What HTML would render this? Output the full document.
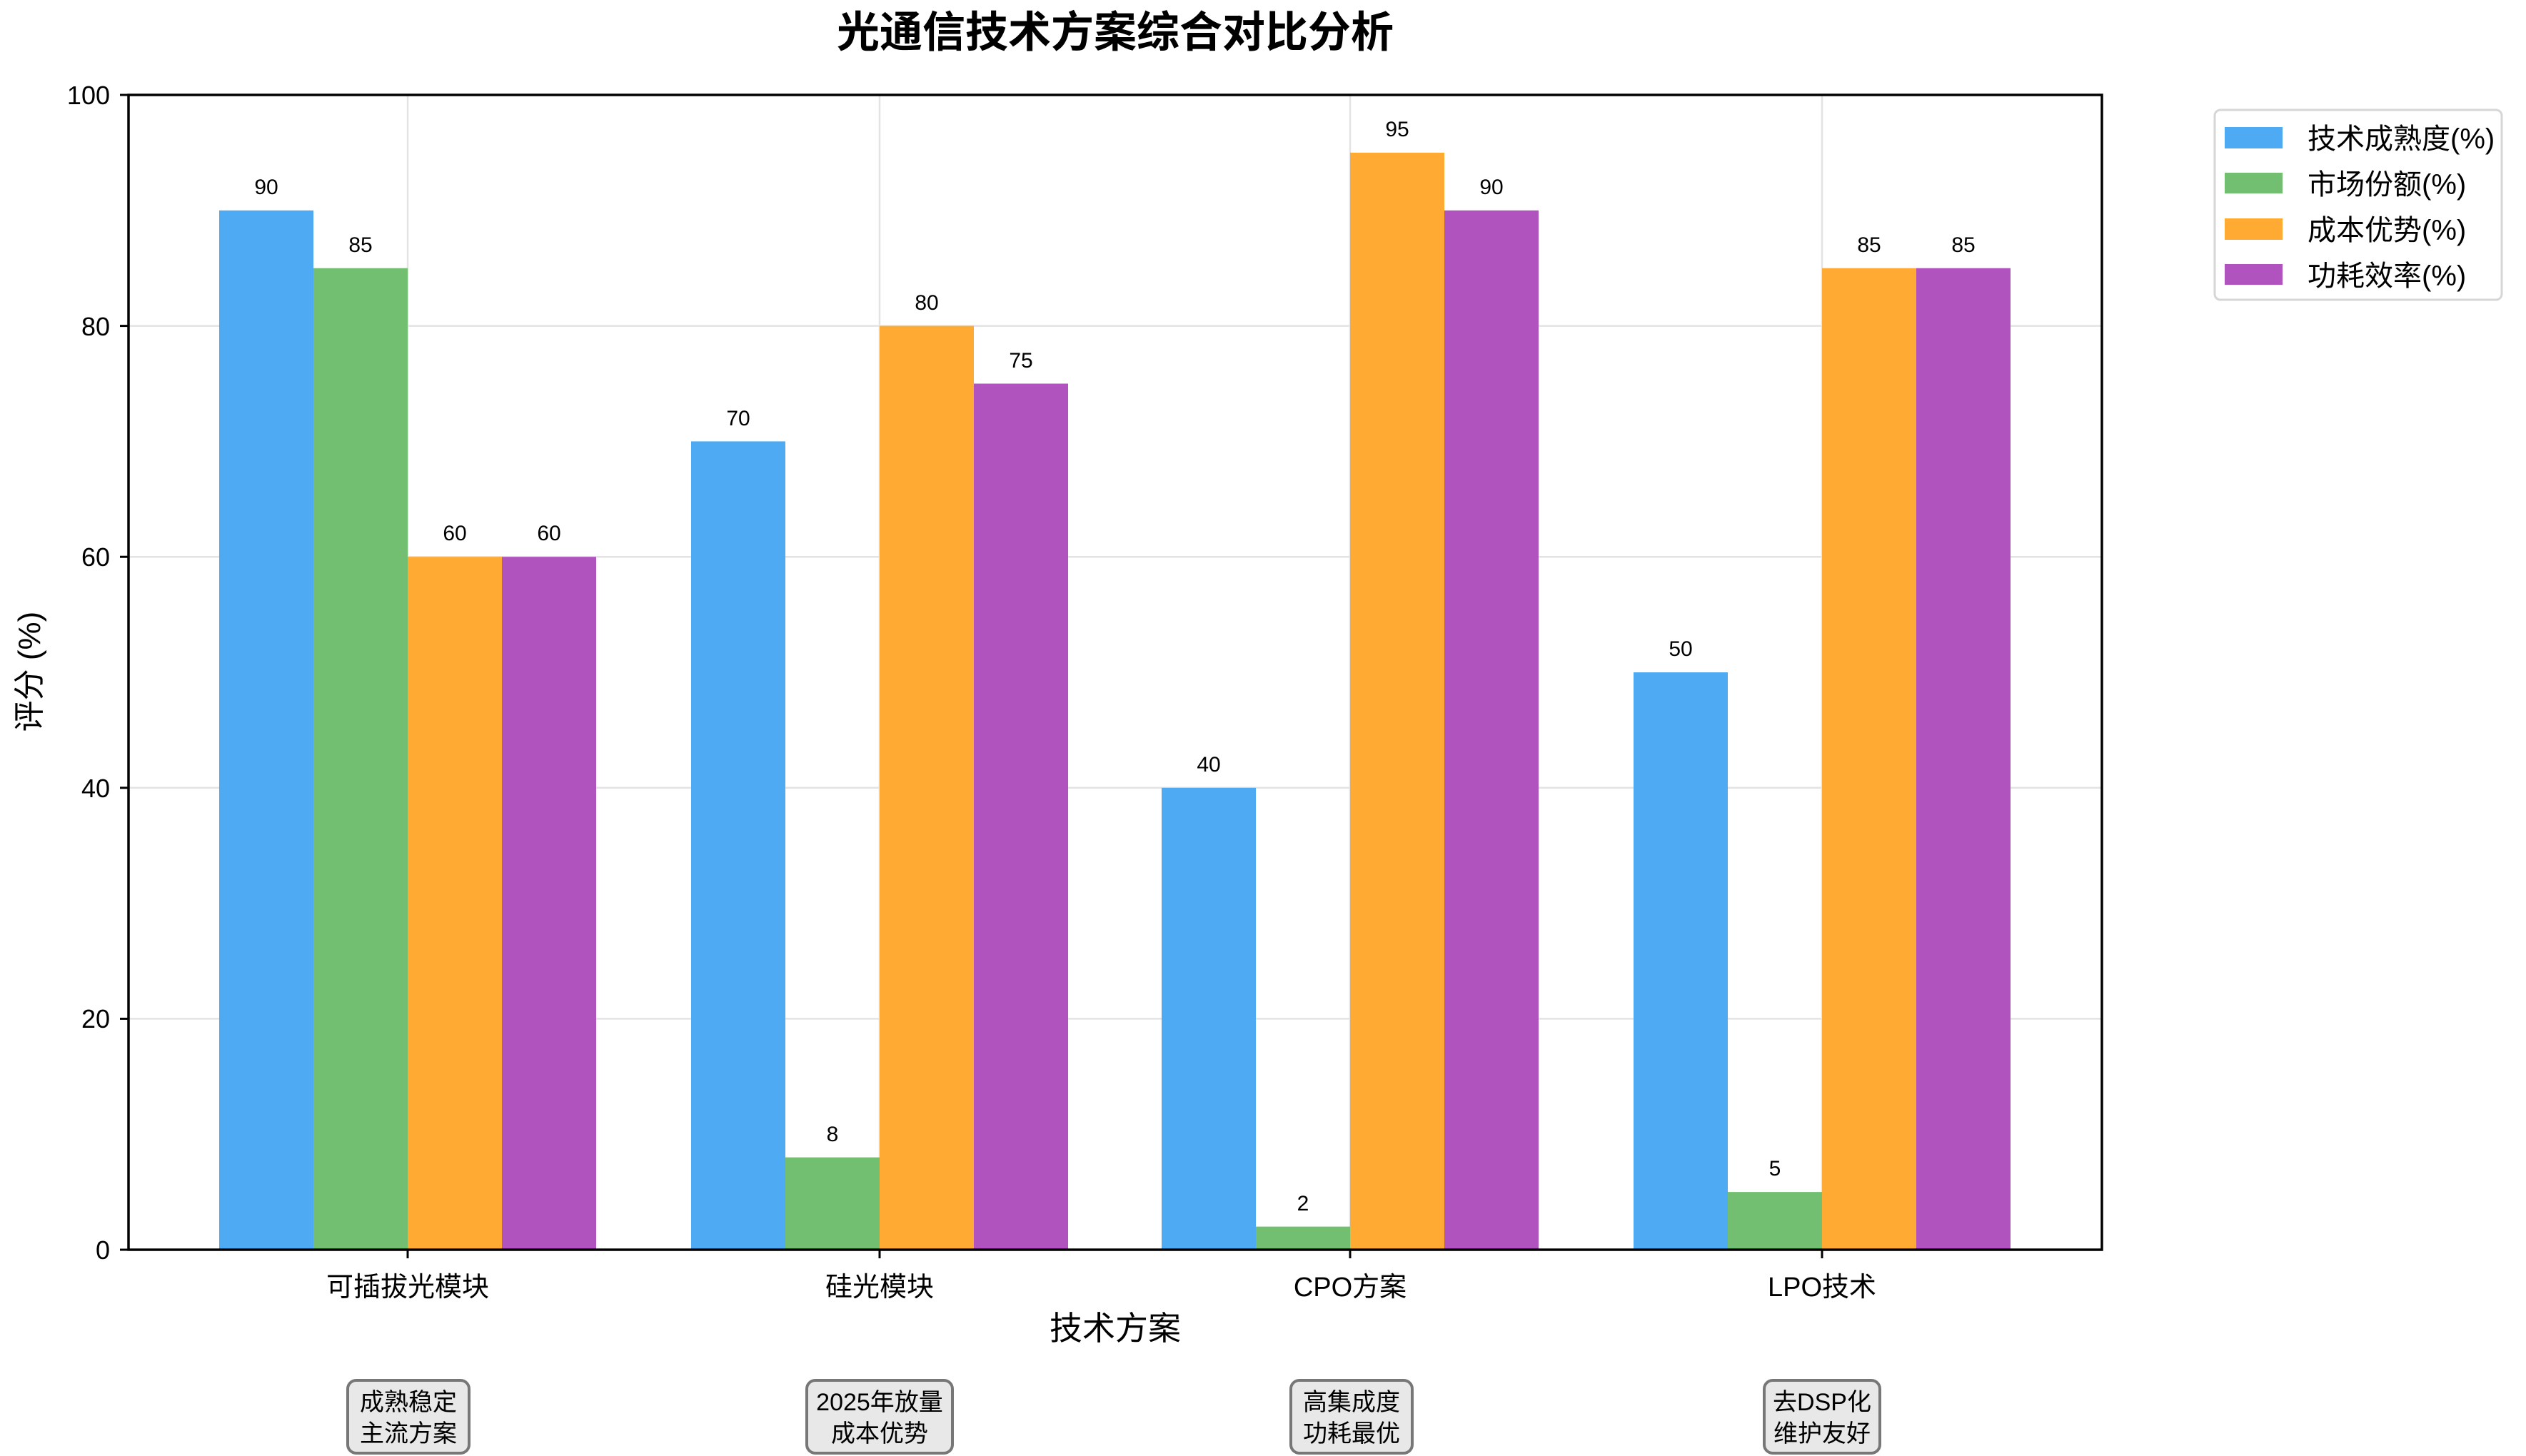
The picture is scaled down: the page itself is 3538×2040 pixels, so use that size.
<!DOCTYPE html>
<html><head><meta charset="utf-8"><style>
html,body{margin:0;padding:0;background:#fff}
svg{display:block}
text{font-family:"Liberation Sans","Noto Sans CJK SC",sans-serif;fill:#000}
</style></head><body>
<svg width="3538" height="2040" viewBox="0 0 3538 2040" xmlns="http://www.w3.org/2000/svg">
<rect width="3538" height="2040" fill="#fff"/>
<text x="1562" y="66" font-size="60" font-weight="bold" text-anchor="middle">光通信技术方案综合对比分析</text>
<!-- grid -->
<g stroke="#e3e3e3" stroke-width="2.5">
<line x1="180" x2="2944" y1="1427.4" y2="1427.4"/>
<line x1="180" x2="2944" y1="1103.8" y2="1103.8"/>
<line x1="180" x2="2944" y1="780.2" y2="780.2"/>
<line x1="180" x2="2944" y1="456.6" y2="456.6"/>
<line x1="571" x2="571" y1="133" y2="1751"/>
<line x1="1232" x2="1232" y1="133" y2="1751"/>
<line x1="1891" x2="1891" y1="133" y2="1751"/>
<line x1="2552" x2="2552" y1="133" y2="1751"/>
</g>
<!-- bars: y = 1751 - v*16.18 -->
<g>
<rect x="307" y="294.8" width="132" height="1456.2" fill="#4eaaf2"/>
<rect x="439" y="375.7" width="132" height="1375.3" fill="#72bf72"/>
<rect x="571" y="780.2" width="132" height="970.8" fill="#ffab33"/>
<rect x="703" y="780.2" width="132" height="970.8" fill="#b053be"/>

<rect x="968" y="618.4" width="132" height="1132.6" fill="#4eaaf2"/>
<rect x="1100" y="1621.6" width="132" height="129.4" fill="#72bf72"/>
<rect x="1232" y="456.6" width="132" height="1294.4" fill="#ffab33"/>
<rect x="1364" y="537.5" width="132" height="1213.5" fill="#b053be"/>

<rect x="1627" y="1103.8" width="132" height="647.2" fill="#4eaaf2"/>
<rect x="1759" y="1718.6" width="132" height="32.4" fill="#72bf72"/>
<rect x="1891" y="213.9" width="132" height="1537.1" fill="#ffab33"/>
<rect x="2023" y="294.8" width="132" height="1456.2" fill="#b053be"/>

<rect x="2288" y="942" width="132" height="809" fill="#4eaaf2"/>
<rect x="2420" y="1670.1" width="132" height="80.9" fill="#72bf72"/>
<rect x="2552" y="375.7" width="132" height="1375.3" fill="#ffab33"/>
<rect x="2684" y="375.7" width="132" height="1375.3" fill="#b053be"/>
</g>
<g font-size="30" text-anchor="middle">
<text x="373" y="272">90</text><text x="505" y="353">85</text><text x="637" y="757">60</text><text x="769" y="757">60</text>
<text x="1034" y="596">70</text><text x="1166" y="1599">8</text><text x="1298" y="434">80</text><text x="1430" y="515">75</text>
<text x="1693" y="1081">40</text><text x="1825" y="1696">2</text><text x="1957" y="191">95</text><text x="2089" y="272">90</text>
<text x="2354" y="919">50</text><text x="2486" y="1647">5</text><text x="2618" y="353">85</text><text x="2750" y="353">85</text>
</g>
<rect x="180" y="133" width="2764" height="1618" fill="none" stroke="#000" stroke-width="3.5"/>
<!-- y ticks -->
<g stroke="#000" stroke-width="3">
<line x1="168" x2="180" y1="1751" y2="1751"/><line x1="168" x2="180" y1="1427.4" y2="1427.4"/>
<line x1="168" x2="180" y1="1103.8" y2="1103.8"/><line x1="168" x2="180" y1="780.2" y2="780.2"/>
<line x1="168" x2="180" y1="456.6" y2="456.6"/><line x1="168" x2="180" y1="133" y2="133"/>
<line x1="571" x2="571" y1="1751" y2="1763"/><line x1="1232" x2="1232" y1="1751" y2="1763"/>
<line x1="1891" x2="1891" y1="1751" y2="1763"/><line x1="2552" x2="2552" y1="1751" y2="1763"/>
</g>
<g font-size="36" text-anchor="end">
<text x="154" y="1764">0</text><text x="154" y="1440">20</text><text x="154" y="1117">40</text>
<text x="154" y="793">60</text><text x="154" y="470">80</text><text x="154" y="146">100</text>
</g>
<g font-size="38" text-anchor="middle">
<text x="571" y="1816">可插拔光模块</text><text x="1232" y="1816">硅光模块</text>
<text x="1891" y="1816">CPO方案</text><text x="2552" y="1816">LPO技术</text>
</g>
<text x="1562" y="1877" font-size="46" text-anchor="middle">技术方案</text>
<text transform="translate(56,941) rotate(-90)" font-size="44" text-anchor="middle">评分 (%)</text>
<!-- annotation boxes -->
<g fill="#e8e8e8" stroke="#777" stroke-width="4">
<rect x="487" y="1934" width="170" height="102" rx="12"/>
<rect x="1130" y="1934" width="204" height="102" rx="12"/>
<rect x="1808" y="1934" width="170" height="102" rx="12"/>
<rect x="2471" y="1934" width="162" height="102" rx="12"/>
</g>
<g font-size="34" text-anchor="middle">
<text x="572" y="1976">成熟稳定</text><text x="572" y="2020">主流方案</text>
<text x="1232" y="1976">2025年放量</text><text x="1232" y="2020">成本优势</text>
<text x="1893" y="1976">高集成度</text><text x="1893" y="2020">功耗最优</text>
<text x="2552" y="1976">去DSP化</text><text x="2552" y="2020">维护友好</text>
</g>
<!-- legend -->
<rect x="3102" y="154" width="402" height="266" rx="8" fill="#fff" stroke="#d6d6d6" stroke-width="3"/>
<rect x="3116" y="178" width="81" height="30" fill="#4eaaf2"/>
<rect x="3116" y="242" width="81" height="29" fill="#72bf72"/>
<rect x="3116" y="306" width="81" height="30" fill="#ffab33"/>
<rect x="3116" y="370" width="81" height="29" fill="#b053be"/>
<g font-size="40">
<text x="3232" y="208">技术成熟度(%)</text>
<text x="3232" y="272">市场份额(%)</text>
<text x="3232" y="336">成本优势(%)</text>
<text x="3232" y="400">功耗效率(%)</text>
</g>
</svg>
</body></html>
